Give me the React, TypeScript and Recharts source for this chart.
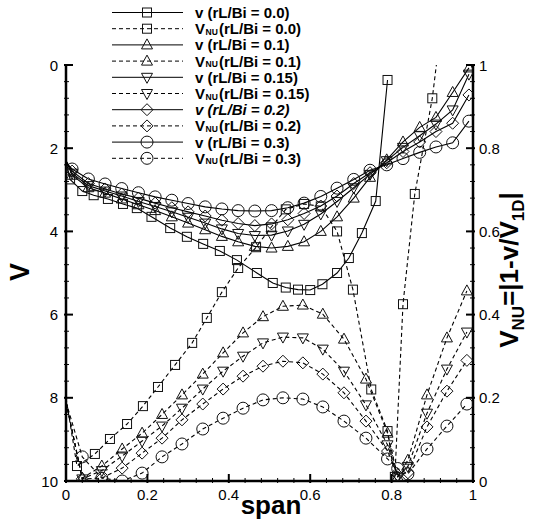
import React from "react";
import { LineChart, Line, XAxis, YAxis, Legend } from "recharts";

// v, rL/Bi = 0.0 (squares, solid)
const spanV00 = [0, 0.01, 0.04, 0.068, 0.103, 0.14, 0.174, 0.21, 0.256, 0.297, 0.337, 0.378, 0.42, 0.469, 0.508, 0.54, 0.57, 0.6, 0.63, 0.666, 0.695, 0.727, 0.761, 0.79];
const vBi00 = [2.3, 2.75, 3.03, 3.13, 3.22, 3.34, 3.44, 3.65, 3.92, 4.13, 4.3, 4.47, 4.69, 5.0, 5.24, 5.35, 5.4, 5.41, 5.27, 5.0, 4.64, 4.04, 3.27, 0.36];

// v, rL/Bi = 0.1 / 0.15 / 0.2 / 0.3 (solid)
const spanV = [0, 0.015, 0.055, 0.096, 0.137, 0.178, 0.219, 0.26, 0.3, 0.342, 0.383, 0.423, 0.464, 0.505, 0.545, 0.585, 0.626, 0.666, 0.707, 0.747, 0.788, 0.828, 0.869, 0.909, 0.95, 0.99];
const vBi01 = [2.3, 2.65, 2.95, 3.08, 3.22, 3.36, 3.5, 3.65, 3.8, 3.96, 4.12, 4.25, 4.36, 4.4, 4.36, 4.25, 4.0, 3.65, 3.2, 2.7, 2.28, 1.85, 1.5, 1.26, 0.66, 0.07];
const vBi015 = [2.3, 2.6, 2.9, 3.03, 3.15, 3.28, 3.4, 3.53, 3.66, 3.8, 3.94, 4.05, 4.1, 4.09, 3.99, 3.83, 3.58, 3.28, 2.95, 2.63, 2.3, 1.98, 1.7, 1.42, 1.08, 0.22];
const vBi02 = [2.3, 2.55, 2.85, 2.98, 3.1, 3.2, 3.32, 3.43, 3.53, 3.63, 3.73, 3.81, 3.86, 3.82, 3.72, 3.57, 3.39, 3.15, 2.85, 2.59, 2.35, 2.08, 1.85, 1.6, 1.4, 0.72];
const vBi03 = [2.35, 2.5, 2.74, 2.86, 2.97, 3.07, 3.17, 3.25, 3.33, 3.41, 3.46, 3.5, 3.51, 3.5, 3.43, 3.32, 3.16, 2.96, 2.75, 2.53, 2.4, 2.25, 2.1, 1.97, 1.87, 1.35];

// V_NU, rL/Bi = 0.0 (squares, dashed)
const spanNu00 = [0, 0.027, 0.071, 0.108, 0.15, 0.189, 0.226, 0.268, 0.31, 0.346, 0.383, 0.423, 0.467, 0.504, 0.54, 0.585, 0.626, 0.666, 0.705, 0.75, 0.79, 0.808, 0.828, 0.857, 0.9, 0.935];
const nuBi00 = [0.2, 0.036, 0.065, 0.101, 0.137, 0.18, 0.226, 0.279, 0.332, 0.392, 0.454, 0.512, 0.562, 0.61, 0.653, 0.666, 0.66, 0.6, 0.46, 0.22, 0.12, 0.01, 0.425, 0.69, 0.92, 1.2];

// V_NU, rL/Bi = 0.1 / 0.15 / 0.2 / 0.3 (dashed)
const spanNu = [0, 0.04, 0.088, 0.138, 0.187, 0.236, 0.285, 0.336, 0.386, 0.435, 0.484, 0.533, 0.582, 0.631, 0.683, 0.737, 0.79, 0.815, 0.84, 0.887, 0.936, 0.985];
const nuBi01 = [0.19, 0.007, 0.036, 0.077, 0.115, 0.16, 0.207, 0.257, 0.308, 0.356, 0.395, 0.42, 0.423, 0.401, 0.341, 0.245, 0.115, 0.01, 0.05, 0.207, 0.344, 0.457];
const nuBi015 = [0.19, 0.005, 0.025, 0.06, 0.096, 0.132, 0.175, 0.221, 0.264, 0.3, 0.332, 0.346, 0.344, 0.317, 0.264, 0.183, 0.087, 0.01, 0.035, 0.163, 0.269, 0.358];
const nuBi02 = [0.19, 0.005, 0.007, 0.031, 0.067, 0.103, 0.147, 0.185, 0.221, 0.252, 0.276, 0.288, 0.284, 0.257, 0.212, 0.144, 0.072, 0.015, 0.02, 0.13, 0.216, 0.29];
const nuBi03 = [0.19, 0.058, 0.007, 0.0, 0.019, 0.058, 0.089, 0.125, 0.151, 0.175, 0.195, 0.2, 0.197, 0.178, 0.144, 0.103, 0.053, 0.03, 0.017, 0.077, 0.132, 0.185];

// ticks (minor + major), labels only on the majors
const spanTicks = [0, 0.04, 0.08, 0.12, 0.16, 0.2, 0.24, 0.28, 0.32, 0.36, 0.4, 0.44, 0.48, 0.52, 0.56, 0.6, 0.64, 0.68, 0.72, 0.76, 0.8, 0.84, 0.88, 0.92, 0.96, 1];
const spanLabels = [0, 0.2, 0.4, 0.6, 0.8, 1];
const vTicks = [0, 0.4, 0.8, 1.2, 1.6, 2, 2.4, 2.8, 3.2, 3.6, 4, 4.4, 4.8, 5.2, 5.6, 6, 6.4, 6.8, 7.2, 7.6, 8, 8.4, 8.8, 9.2, 9.6, 10];
const vLabels = [0, 2, 4, 6, 8, 10];
const nuTicks = spanTicks;
const nuLabels = [0, 0.2, 0.4, 0.6, 0.8, 1];

const toPoints = (xs: number[], ys: number[]) => xs.map((x, i) => ({ span: x, val: ys[i] }));

const series = [
  { kind: "v", bi: "0.0", shape: "square", data: toPoints(spanV00, vBi00) },
  { kind: "nu", bi: "0.0", shape: "square", data: toPoints(spanNu00, nuBi00) },
  { kind: "v", bi: "0.1", shape: "up", data: toPoints(spanV, vBi01) },
  { kind: "nu", bi: "0.1", shape: "up", data: toPoints(spanNu, nuBi01) },
  { kind: "v", bi: "0.15", shape: "down", data: toPoints(spanV, vBi015) },
  { kind: "nu", bi: "0.15", shape: "down", data: toPoints(spanNu, nuBi015) },
  { kind: "v", bi: "0.2", shape: "diamond", data: toPoints(spanV, vBi02) },
  { kind: "nu", bi: "0.2", shape: "diamond", data: toPoints(spanNu, nuBi02) },
  { kind: "v", bi: "0.3", shape: "circle", data: toPoints(spanV, vBi03) },
  { kind: "nu", bi: "0.3", shape: "circle", data: toPoints(spanNu, nuBi03) },
];

const FONT = "'Liberation Sans', Arial, Helvetica, sans-serif";

function Marker({ shape, cx, cy }: { shape: string; cx: number; cy: number }) {
  const st = { fill: "none", stroke: "#111", strokeWidth: 1 };
  if (shape === "square") return <rect x={cx - 4.5} y={cy - 4.5} width={9} height={9} {...st} />;
  if (shape === "up") return <polygon points={`${cx},${cy - 6} ${cx + 5.5},${cy + 4} ${cx - 5.5},${cy + 4}`} {...st} />;
  if (shape === "down") return <polygon points={`${cx},${cy + 6} ${cx + 5.5},${cy - 4} ${cx - 5.5},${cy - 4}`} {...st} />;
  if (shape === "diamond") return <polygon points={`${cx},${cy - 6} ${cx + 6},${cy} ${cx},${cy + 6} ${cx - 6},${cy}`} {...st} />;
  return <circle cx={cx} cy={cy} r={6} {...st} />;
}

const isMajor = (v: number, labels: number[]) => labels.some((l) => Math.abs(l - v) < 1e-6);

const XTick = (p: any) => {
  const v = p.payload.value;
  const major = isMajor(v, spanLabels);
  return (
    <g>
      <line x1={p.x} x2={p.x} y1={p.y} y2={p.y - (major ? 9 : 5)} stroke="#000" strokeWidth={major ? 2 : 1} />
      {major && (
        <text x={p.x} y={p.y + 17} textAnchor="middle" fontSize={15} fill="#000">{String(v)}</text>
      )}
    </g>
  );
};

const VTick = (p: any) => {
  const v = p.payload.value;
  const major = isMajor(v, vLabels);
  return (
    <g>
      <line x1={p.x} x2={p.x + (major ? 9 : 5)} y1={p.y} y2={p.y} stroke="#000" strokeWidth={major ? 2 : 1} />
      {major && (
        <text x={p.x - 6} y={p.y + 5.5} textAnchor="end" fontSize={15} fill="#000">{String(v)}</text>
      )}
    </g>
  );
};

const NuTick = (p: any) => {
  const v = p.payload.value;
  const major = isMajor(v, nuLabels);
  return (
    <g>
      <line x1={p.x} x2={p.x - (major ? 9 : 5)} y1={p.y} y2={p.y} stroke="#000" strokeWidth={major ? 2 : 1} />
      {major && (
        <text x={p.x + 4} y={p.y + 5.5} textAnchor="start" fontSize={15} fill="#000">{String(v)}</text>
      )}
    </g>
  );
};

const LegendBox = () => (
  <svg width={340} height={170} style={{ display: "block", overflow: "visible" }}>
    {series.map((s, i) => {
      const y = 12.5 + i * 16.2;
      const txt = { fontWeight: "bold" as const, fill: "#000", fontFamily: FONT };
      return (
        <g key={i}>
          <line x1={112} x2={183} y1={y} y2={y} stroke="#000" strokeWidth={1} strokeDasharray={s.kind === "nu" ? "4 3" : undefined} />
          <Marker shape={s.shape} cx={147} cy={y} />
          {s.kind === "nu" ? (
            <>
              <text x={195} y={y + 5.5} fontSize={15} {...txt}>V</text>
              <text x={205.5} y={y + 6} fontSize={8.5} {...txt}>NU</text>
              <text x={219} y={y + 5.5} fontSize={15} {...txt}>{`(rL/Bi = ${s.bi})`}</text>
            </>
          ) : (
            <text x={195} y={y + 5.5} fontSize={15} {...txt} fontStyle={s.bi === "0.2" ? "italic" : "normal"}>
              {`v (rL/Bi = ${s.bi})`}
            </text>
          )}
        </g>
      );
    })}
  </svg>
);

export default function App() {
  return (
    <div style={{ width: 541, height: 526, position: "relative", fontFamily: FONT, background: "#fff" }}>
      <style>{`body{margin:0;background:#fff}`}</style>
      <LineChart width={541} height={526} margin={{ top: 65, right: 28, bottom: 15, left: 26 }} style={{ fontFamily: FONT }}>
        <XAxis
          type="number"
          dataKey="span"
          domain={[0, 1]}
          allowDataOverflow
          ticks={spanTicks}
          interval={0}
          tickSize={0}
          tickLine={false}
          height={30}
          axisLine={{ stroke: "#000", strokeWidth: 2.5 }}
          tick={XTick}
          label={{
            content: () => (
              <text x={271} y={514} textAnchor="middle" fontSize={26} fontWeight="bold" fill="#000" fontFamily={FONT}>span</text>
            ),
          }}
        />
        <YAxis
          yAxisId="v"
          orientation="left"
          domain={[0, 10]}
          reversed
          allowDataOverflow
          ticks={vTicks}
          interval={0}
          tickSize={0}
          tickLine={false}
          width={40}
          axisLine={{ stroke: "#000", strokeWidth: 2.5 }}
          tick={VTick}
          label={{
            content: () => (
              <text x={29} y={272} transform="rotate(-90 29 272)" textAnchor="middle" fontSize={27} fontWeight="bold" fill="#000" fontFamily={FONT}>V</text>
            ),
          }}
        />
        <YAxis
          yAxisId="nu"
          orientation="right"
          domain={[0, 1]}
          allowDataOverflow
          ticks={nuTicks}
          interval={0}
          tickSize={0}
          tickLine={false}
          width={40}
          axisLine={{ stroke: "#000", strokeWidth: 2.5 }}
          tick={NuTick}
          label={{
            content: () => (
              <text x={518} y={270} transform="rotate(-90 518 270)" textAnchor="middle" fontSize={26} fontWeight="bold" fill="#000" fontFamily={FONT}>
                V<tspan fontSize={17} dy={6}>NU</tspan>
                <tspan dy={-6}>=|1-v/V</tspan>
                <tspan fontSize={17} dy={6}>1D</tspan>
                <tspan dy={-6}>|</tspan>
              </text>
            ),
          }}
        />
        <Legend
          layout="horizontal"
          verticalAlign="middle"
          align="center"
          content={() => <LegendBox />}
          wrapperStyle={{ position: "absolute", left: 0, top: 0, width: 340, height: 170, pointerEvents: "none" }}
        />
        {series.map((s, i) => (
          <Line
            key={i}
            data={s.data}
            dataKey="val"
            yAxisId={s.kind}
            type="linear"
            stroke="#000"
            strokeWidth={1.1}
            strokeDasharray={s.kind === "nu" ? "4 3" : undefined}
            isAnimationActive={false}
            activeDot={false}
            legendType="none"
            dot={(p: any) =>
              p.index === 0 || p.cx == null ? (
                <g key={`d-${i}-${p.index}`} />
              ) : (
                <g key={`d-${i}-${p.index}`}>
                  <Marker shape={s.shape} cx={p.cx} cy={p.cy} />
                </g>
              )
            }
          />
        ))}
      </LineChart>
    </div>
  );
}
